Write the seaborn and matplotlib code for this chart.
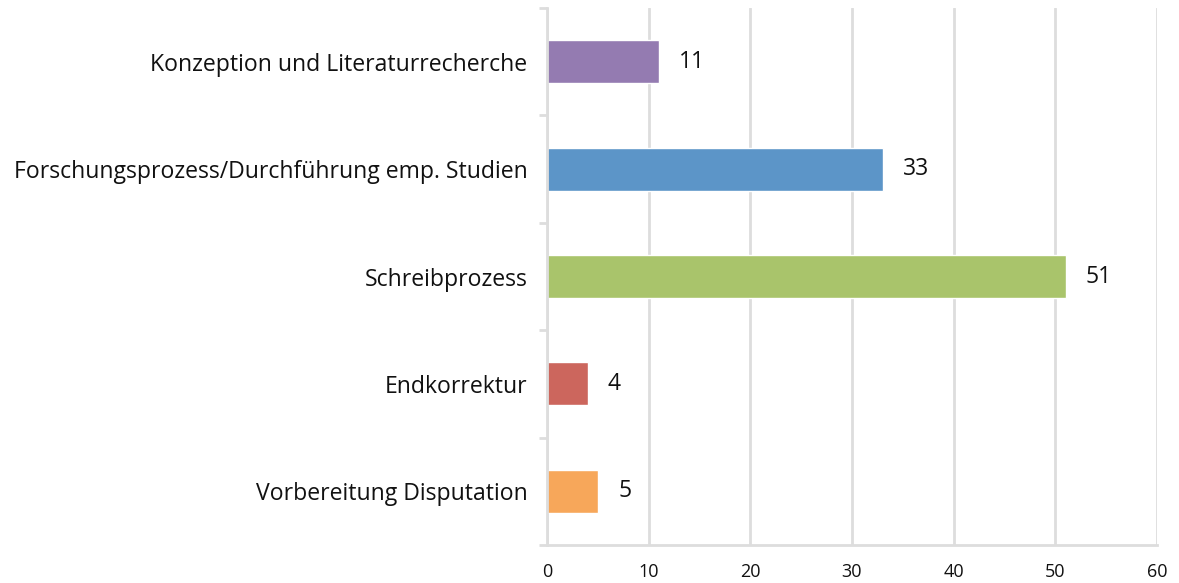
import matplotlib
matplotlib.use("Agg")
import matplotlib.pyplot as plt
import seaborn as sns
import pandas as pd

categories = ["Konzeption und Literaturrecherche",
              "Forschungsprozess/Durchführung emp. Studien",
              "Schreibprozess",
              "Endkorrektur",
              "Vorbereitung Disputation"]
values = [11, 33, 51, 4, 5]
colors = ["#947BB1", "#5C95C8", "#A9C46B", "#CC665D", "#F7A75A"]
x_ticks = [0, 10, 20, 30, 40, 50, 60]

sns.set_theme(style="white")
plt.rcParams['font.family'] = ['Open Sans', 'DejaVu Sans']

df = pd.DataFrame({"cat": categories, "val": values})
fig = plt.figure(figsize=(11.79, 5.83), dpi=100)
ax = fig.add_axes([547/1179, 38/583, 610/1179, 537/583])
sns.barplot(data=df, y="cat", x="val", hue="cat", palette=colors,
            order=categories, hue_order=categories, width=0.4,
            legend=False, ax=ax, saturation=1)

ax.set_xlim(0, 60)
ax.set_ylim(len(categories) - 0.5, -0.5)
ax.set_xticks(x_ticks)
ax.set_xticklabels([str(t) for t in x_ticks], fontsize=13, color="#111111")
ax.set_xlabel("")
ax.set_ylabel("")
ax.tick_params(axis='y', length=0, labelsize=16.6, pad=14, labelcolor="#111111")
ax.tick_params(axis='x', length=6, color="#DDDDDD", width=2, pad=7)
ax.xaxis.grid(True, color="#DDDDDD", linewidth=2)
ax.set_axisbelow(True)
for s in ["top", "right"]:
    ax.spines[s].set_visible(False)
for s in ["left", "bottom"]:
    ax.spines[s].set_color("#DDDDDD")
    ax.spines[s].set_linewidth(2)

# minor ticks on y axis at category boundaries
ax.set_yticks([i + 0.5 for i in range(-1, len(categories))], minor=True)
ax.tick_params(axis='y', which='minor', length=6, color="#DDDDDD", width=2, left=True)

for i, v in enumerate(values):
    ax.text(v + 2, i, str(v), va="center", ha="left", fontsize=16.5, color="#111111")

fig.savefig("out.png", dpi=100)
